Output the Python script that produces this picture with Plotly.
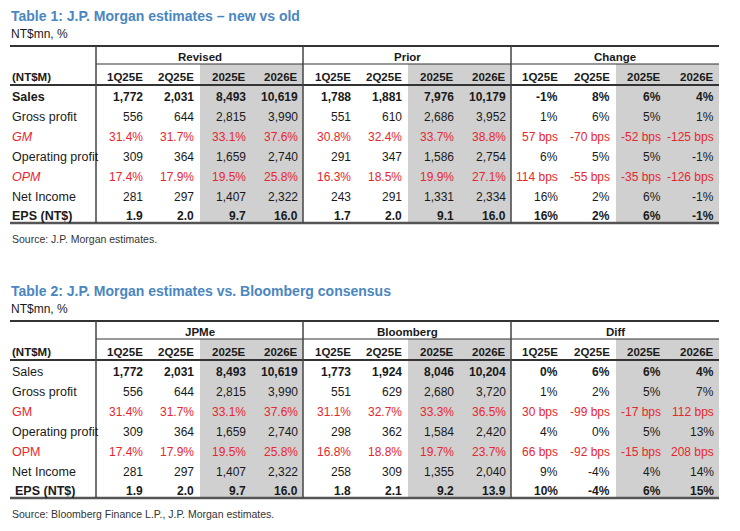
import plotly.graph_objects as go

row_labels = ["Sales", "Gross profit", "GM", "Operating profit", "OPM", "Net Income", "EPS (NT$)"]
col_labels = ["1Q25E", "2Q25E", "2025E", "2026E"]

t1_title = "Table 1: J.P. Morgan estimates – new vs old"
t1_groups = ["Revised", "Prior", "Change"]
t1_revised = [["1,772", "2,031", "8,493", "10,619"], ["556", "644", "2,815", "3,990"],
              ["31.4%", "31.7%", "33.1%", "37.6%"], ["309", "364", "1,659", "2,740"],
              ["17.4%", "17.9%", "19.5%", "25.8%"], ["281", "297", "1,407", "2,322"],
              ["1.9", "2.0", "9.7", "16.0"]]
t1_prior = [["1,788", "1,881", "7,976", "10,179"], ["551", "610", "2,686", "3,952"],
            ["30.8%", "32.4%", "33.7%", "38.8%"], ["291", "347", "1,586", "2,754"],
            ["16.3%", "18.5%", "19.9%", "27.1%"], ["243", "291", "1,331", "2,334"],
            ["1.7", "2.0", "9.1", "16.0"]]
t1_change = [["-1%", "8%", "6%", "4%"], ["1%", "6%", "5%", "1%"],
             ["57 bps", "-70 bps", "-52 bps", "-125 bps"], ["6%", "5%", "5%", "-1%"],
             ["114 bps", "-55 bps", "-35 bps", "-126 bps"], ["16%", "2%", "6%", "-1%"],
             ["16%", "2%", "6%", "-1%"]]
t1_source = "Source: J.P. Morgan estimates."

t2_title = "Table 2: J.P. Morgan estimates vs. Bloomberg consensus"
t2_groups = ["JPMe", "Bloomberg", "Diff"]
t2_jpm = t1_revised
t2_bbg = [["1,773", "1,924", "8,046", "10,204"], ["551", "629", "2,680", "3,720"],
          ["31.1%", "32.7%", "33.3%", "36.5%"], ["298", "362", "1,584", "2,420"],
          ["16.8%", "18.8%", "19.7%", "23.7%"], ["258", "309", "1,355", "2,040"],
          ["1.8", "2.1", "9.2", "13.9"]]
t2_diff = [["0%", "6%", "6%", "4%"], ["1%", "2%", "5%", "7%"],
           ["30 bps", "-99 bps", "-17 bps", "112 bps"], ["4%", "0%", "5%", "13%"],
           ["66 bps", "-92 bps", "-15 bps", "208 bps"], ["9%", "-4%", "4%", "14%"],
           ["10%", "-4%", "6%", "15%"]]
t2_source = "Source: Bloomberg Finance L.P., J.P. Morgan estimates."

FONT = "Liberation Sans Narrow, Arial Narrow, Liberation Sans, sans-serif"
DARK = "#1a1a1a"
RED = "#e8262d"
BLUE = "#4a86c0"
GREY = "#d0d0d0"

fig = go.Figure()
shapes, anns = [], []

blocks_x = [(96, 303), (303, 511), (511, 719)]
col_right = [[145, 196, 248, 300], [353, 404, 456, 508], [560, 612, 663, 716]]


def txt(x, y, s, color=DARK, bold=False, italic=False, anchor="right", size=12):
    if bold:
        s = "<b>" + s + "</b>"
    if italic:
        s = "<i>" + s + "</i>"
    anns.append(dict(x=x, y=y, xref="x", yref="y", text=s, showarrow=False,
                     xanchor=anchor, yanchor="middle",
                     font=dict(family=FONT, size=size, color=color)))


def line(x0, y0, x1, y1, w=1, c="#333"):
    shapes.append(dict(type="line", x0=x0, y0=y0, x1=x1, y1=y1, xref="x", yref="y",
                       line=dict(color=c, width=w)))


def table(off, title, groups, data, source, t2):
    top, mid, hdr, bot = 46 + off, 64 + off, 85 + off, 223 + off
    for b, (x0, x1) in enumerate(blocks_x):
        shapes.append(dict(type="rect", x0=col_right[b][1] + 4, x1=x1, y0=mid, y1=bot,
                           xref="x", yref="y", fillcolor=GREY, line=dict(width=0), layer="below"))
    txt(9, 16 + off, title, color=BLUE, bold=True, anchor="left", size=14)
    txt(9, 34 + off, "NT$mn, %", anchor="left", size=12)
    line(10, top, 719, top, 2)
    line(96, mid, 719, mid, 1.2)
    line(10, hdr, 719, hdr, 2)
    line(10, bot, 719, bot, 2.5, "#555")
    for xv in (96, 303, 511):
        line(xv, top, xv, bot, 1.5, "#444")
    for b, g in enumerate(groups):
        x0, x1 = blocks_x[b]
        txt((x0 + x1) / 2, 57 + off, g, bold=True, anchor="center", size=11.5)
        for c, cl in enumerate(col_labels):
            txt(col_right[b][c], 77 + off, cl, bold=True, size=11.5)
    txt(10, 77 + off, "(NT$M)", bold=True, anchor="left", size=11.5)
    for r, lab in enumerate(row_labels):
        y = 97 + off + r * 19.9
        red = lab in ("GM", "OPM")
        col = RED if red else DARK
        bold_lab = (lab == "Sales" and not t2) or lab.startswith("EPS")
        bold_val = lab in ("Sales",) or lab.startswith("EPS")
        txt(10 if not (t2 and lab.startswith("EPS")) else 13, y, lab, color=col, bold=bold_lab,
            italic=red and not t2, anchor="left", size=12.5)
        for b in range(3):
            for c in range(4):
                txt(col_right[b][c], y, data[b][r][c], color=col, bold=bold_val, size=12)
    txt(10, 239 + off, source, anchor="left", size=10.5, color="#333")


table(0, t1_title, t1_groups, [t1_revised, t1_prior, t1_change], t1_source, False)
table(275, t2_title, t2_groups, [t2_jpm, t2_bbg, t2_diff], t2_source, True)

fig.update_layout(width=740, height=531, margin=dict(l=0, r=0, t=0, b=0),
                  paper_bgcolor="white", plot_bgcolor="white",
                  xaxis=dict(range=[8, 748], visible=False, fixedrange=True),
                  yaxis=dict(range=[539, 8], visible=False, fixedrange=True),
                  shapes=shapes, annotations=anns, showlegend=False)
fig.write_html("out.html")
